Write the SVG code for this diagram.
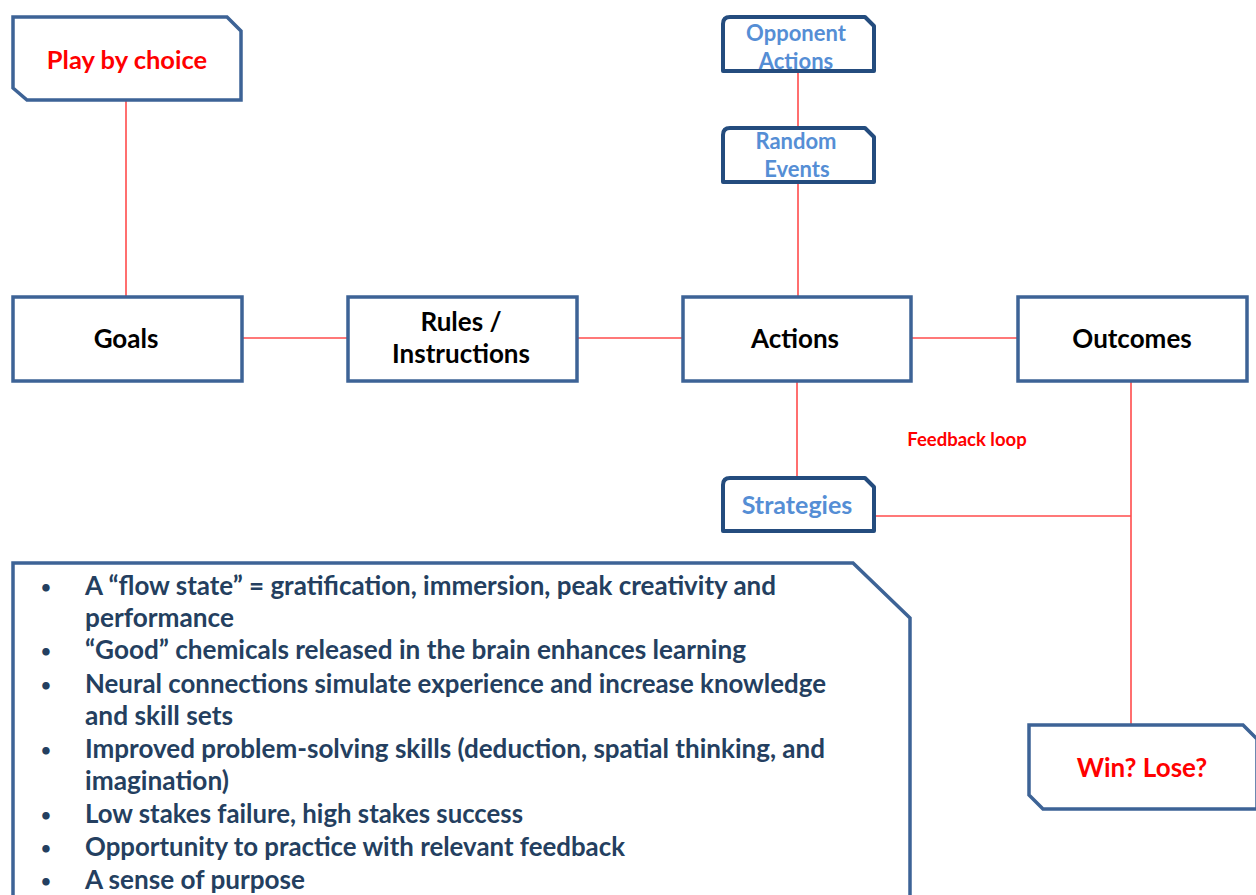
<svg xmlns="http://www.w3.org/2000/svg" width="1256" height="895" viewBox="0 0 1256 895">
<style>
.box{fill:#fff;stroke:#3D6396;stroke-width:3.5;stroke-linejoin:miter}
.sbox{fill:#fff;stroke:#244C7E;stroke-width:4;stroke-linejoin:round}
.conn{stroke:#FF4B4B;stroke-width:1.6;fill:none}
.t{font-family:Lato,"Open Sans","Liberation Sans",sans-serif;font-weight:bold;text-anchor:middle}
.blk{fill:#000;font-size:26px}
.red{fill:#FF0000}
.lb{fill:#558ED5}
.bl{font-family:Lato,"Open Sans","Liberation Sans",sans-serif;font-weight:bold;font-size:26px;fill:#243F60}
.dot{font-size:17px}
</style>
<rect width="1256" height="895" fill="#fff"/>
<g id="connectors">
<line class="conn" x1="126" y1="101" x2="126" y2="297"/>
<line class="conn" x1="242" y1="338" x2="348" y2="338"/>
<line class="conn" x1="577" y1="338" x2="683" y2="338"/>
<line class="conn" x1="911" y1="338" x2="1018" y2="338"/>
<line class="conn" x1="798" y1="72" x2="798" y2="127"/>
<line class="conn" x1="798" y1="182" x2="798" y2="297"/>
<line class="conn" x1="797" y1="381" x2="797" y2="477"/>
<line class="conn" x1="1131" y1="381" x2="1131" y2="725"/>
<line class="conn" x1="874" y1="516" x2="1131" y2="516"/>
</g>
<g id="play">
<path class="box" d="M13,17 H227 L241,31 V100 H27 L13,88 Z"/>
<text class="t red" x="127" y="69" font-size="25.5">Play by choice</text>
</g>
<g id="goals">
<rect class="box" x="13" y="297" width="229" height="84"/>
<text class="t blk" x="126" y="348">Goals</text>
</g>
<g id="rules">
<rect class="box" x="348" y="297" width="229" height="84"/>
<text class="t blk" x="461" y="331">Rules /</text>
<text class="t blk" x="461" y="363">Instructions</text>
</g>
<g id="actions">
<rect class="box" x="683" y="297" width="228" height="84"/>
<text class="t blk" x="795" y="348">Actions</text>
</g>
<g id="outcomes">
<rect class="box" x="1018" y="297" width="229" height="84"/>
<text class="t blk" x="1132" y="348">Outcomes</text>
</g>
<g id="opponent">
<path class="sbox" d="M730,17 H865 L874,26 V71 H723 V24 Q723,17 730,17 Z"/>
<text class="t lb" x="796" y="41" font-size="22">Opponent</text>
<text class="t lb" x="796" y="69" font-size="22">Actions</text>
</g>
<g id="random">
<path class="sbox" d="M730,128 H865 L874,137 V182 H723 V135 Q723,128 730,128 Z"/>
<text class="t lb" x="796" y="149" font-size="22">Random</text>
<text class="t lb" x="797" y="177" font-size="22">Events</text>
</g>
<g id="strategies">
<path class="sbox" d="M730,478 H865 L874,487 V531 H723 V485 Q723,478 730,478 Z"/>
<text class="t lb" x="797" y="514" font-size="25">Strategies</text>
</g>
<g id="feedback">
<text class="t red" x="967" y="446" font-size="18.5">Feedback loop</text>
</g>
<g id="winlose">
<path class="box" d="M1029,725 H1243 L1257,739 V809 H1043 L1029,795 Z"/>
<text class="t red" x="1142" y="777" font-size="26">Win? Lose?</text>
</g>
<g id="benefits">
<path class="box" d="M13,563 H853 L910,618 V905 H13 Z"/>
<g class="bl">
<text class="dot" x="41" y="593">•</text>
<text x="85" y="595" textLength="691" lengthAdjust="spacingAndGlyphs">A “flow state” = gratification, immersion, peak creativity and</text>
<text x="85" y="627" textLength="149" lengthAdjust="spacingAndGlyphs">performance</text>
<text class="dot" x="41" y="657">•</text>
<text x="85" y="659" textLength="661" lengthAdjust="spacingAndGlyphs">“Good” chemicals released in the brain enhances learning</text>
<text class="dot" x="41" y="691">•</text>
<text x="85" y="693" textLength="741" lengthAdjust="spacingAndGlyphs">Neural connections simulate experience and increase knowledge</text>
<text x="85" y="725" textLength="148" lengthAdjust="spacingAndGlyphs">and skill sets</text>
<text class="dot" x="41" y="756">•</text>
<text x="85" y="758" textLength="740" lengthAdjust="spacingAndGlyphs">Improved problem-solving skills (deduction, spatial thinking, and</text>
<text x="85" y="790" textLength="144" lengthAdjust="spacingAndGlyphs">imagination)</text>
<text class="dot" x="41" y="821">•</text>
<text x="85" y="823" textLength="438" lengthAdjust="spacingAndGlyphs">Low stakes failure, high stakes success</text>
<text class="dot" x="41" y="854">•</text>
<text x="85" y="856" textLength="540" lengthAdjust="spacingAndGlyphs">Opportunity to practice with relevant feedback</text>
<text class="dot" x="41" y="887">•</text>
<text x="85" y="889" textLength="220" lengthAdjust="spacingAndGlyphs">A sense of purpose</text>
</g>
</g>
</svg>
